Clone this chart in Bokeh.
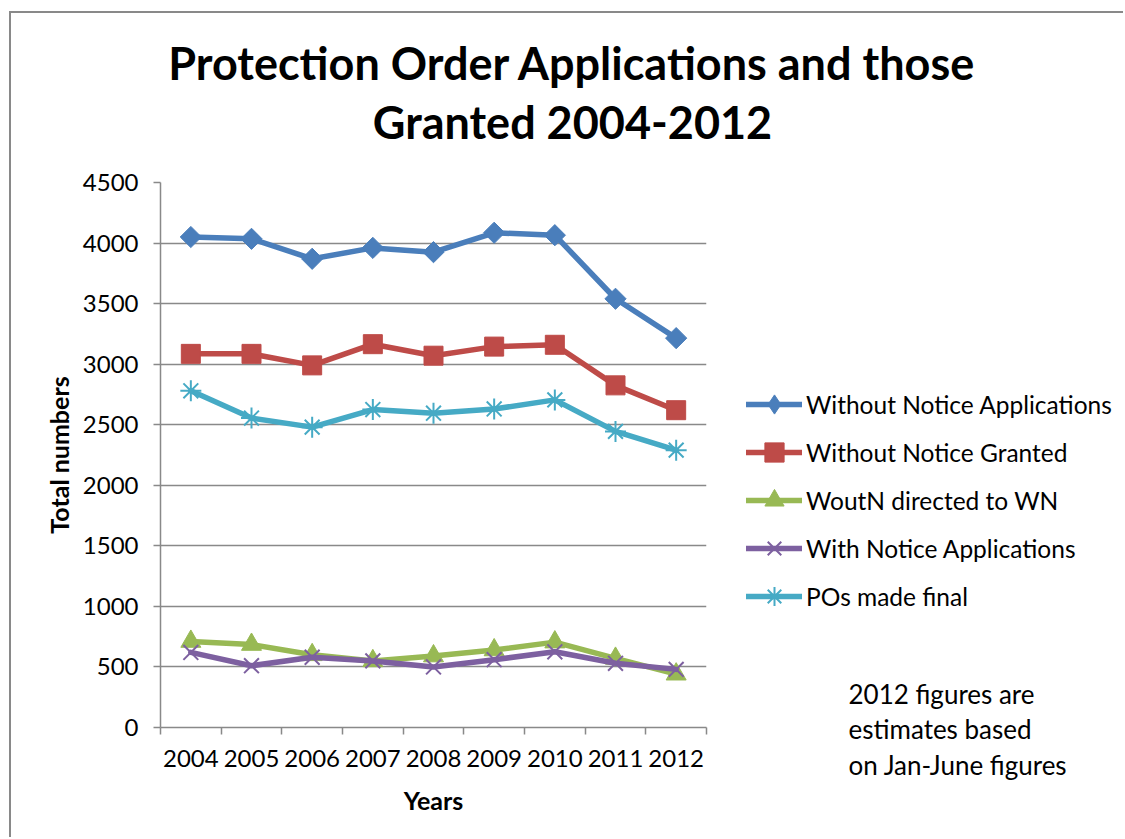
import math
from bokeh.plotting import figure
from bokeh.models import Range1d, FixedTicker, Label, Legend, LegendItem
from bokeh.embed import file_html
from bokeh.resources import INLINE

years = ["2004", "2005", "2006", "2007", "2008", "2009", "2010", "2011", "2012"]
without_notice_apps = [4050, 4035, 3870, 3960, 3925, 4085, 4065, 3540, 3215]
without_notice_granted = [3085, 3085, 2990, 3165, 3070, 3145, 3160, 2825, 2620]
woutn_directed_wn = [710, 685, 600, 550, 590, 640, 705, 570, 440]
with_notice_apps = [620, 510, 580, 550, 500, 560, 625, 530, 480]
pos_made_final = [2780, 2555, 2480, 2625, 2595, 2630, 2705, 2445, 2290]
y_ticks = [0, 500, 1000, 1500, 2000, 2500, 3000, 3500, 4000, 4500]
title_lines = ["Protection Order Applications and those", "Granted 2004-2012"]
note_lines = ["2012 figures are", "estimates based", "on Jan-June figures"]

FONT = "Lato"
GRAY = "#898989"

# page geometry (figure host is offset by margin + border)
OX, OY = 11, 13
FL, FT, FR, FB = 160, 182, 706, 727  # frame in page px
W, H = 1125 - OX, 839 - OY

p = figure(width=W, height=H, output_backend="svg", toolbar_location=None,
           x_range=Range1d(0, 9), y_range=Range1d(0, 4500),
           min_border_left=FL - OX, min_border_right=W - (FR - OX),
           min_border_top=FT - OY, min_border_bottom=H - (FB - OY))
p.styles = {"margin-left": "9px", "margin-top": "11px",
            "border-left": f"2px solid {GRAY}", "border-top": f"2px solid {GRAY}"}
p.outline_line_color = None
p.background_fill_color = "white"
p.border_fill_color = "white"

xs = [i + 0.5 for i in range(len(years))]

# axes
p.yaxis.ticker = FixedTicker(ticks=y_ticks)
p.yaxis.axis_line_color = GRAY
p.yaxis.axis_line_width = 1.5
p.yaxis.major_tick_line_color = GRAY
p.yaxis.major_tick_line_width = 1.5
p.yaxis.major_tick_out = 7
p.yaxis.major_tick_in = 0
p.yaxis.minor_tick_line_color = None
p.yaxis.major_label_standoff = 15
p.yaxis.major_label_text_font = FONT
p.yaxis.major_label_text_font_size = "24px"
p.yaxis.major_label_text_color = "black"
p.yaxis.axis_label = "Total numbers"
p.yaxis.axis_label_text_font = FONT
p.yaxis.axis_label_text_font_size = "25px"
p.yaxis.axis_label_text_font_style = "bold"
p.yaxis.axis_label_text_color = "black"
p.yaxis.axis_label_standoff = 6

p.xaxis.ticker = FixedTicker(ticks=xs, minor_ticks=list(range(len(years) + 1)))
p.xaxis.major_label_overrides = {x: y for x, y in zip(xs, years)}
p.xaxis.axis_line_color = GRAY
p.xaxis.axis_line_width = 1.5
p.xaxis.major_tick_line_color = None
p.xaxis.major_tick_out = 0
p.xaxis.major_tick_in = 0
p.xaxis.minor_tick_line_color = GRAY
p.xaxis.minor_tick_line_width = 1.5
p.xaxis.minor_tick_out = 7
p.xaxis.minor_tick_in = 0
p.xaxis.major_label_standoff = 15
p.xaxis.major_label_text_font = FONT
p.xaxis.major_label_text_font_size = "24px"
p.xaxis.major_label_text_color = "black"
p.xaxis.axis_label = "Years"
p.xaxis.axis_label_text_font = FONT
p.xaxis.axis_label_text_font_size = "25px"
p.xaxis.axis_label_text_font_style = "bold"
p.xaxis.axis_label_text_color = "black"
p.xaxis.axis_label_standoff = 15

p.xgrid.grid_line_color = None
p.ygrid.ticker = FixedTicker(ticks=y_ticks)
p.ygrid.grid_line_color = GRAY
p.ygrid.grid_line_width = 1.5

# name, values, colour, plot marker, size, angle, outline width, legend marker
series = [
    ("Without Notice Applications", without_notice_apps, "#4A7EBB", "square", 15, math.pi / 4, 0, "diamond"),
    ("Without Notice Granted", without_notice_granted, "#BE4B48", "square", 19, 0, 0, "square"),
    ("WoutN directed to WN", woutn_directed_wn, "#98B954", "triangle", 20, 0, 0, "triangle"),
    ("With Notice Applications", with_notice_apps, "#7D60A0", "x", 21, 0, 2, "x"),
    ("POs made final", pos_made_final, "#46AAC5", "asterisk", 21, 0, 2, "asterisk"),
]

def draw(fig, xv, yv, col, marker, size, ang, lw):
    r1 = fig.line(xv, yv, line_color=col, line_width=5.5, line_join="round", line_cap="round")
    if lw:
        r2 = fig.scatter(xv, yv, marker=marker, size=size, line_color=col, line_width=lw,
                         fill_color=None)
    else:
        r2 = fig.scatter(xv, yv, marker=marker, size=size, angle=ang, fill_color=col,
                         line_color=col)
    return r1, r2

for name, vals, col, marker, size, ang, lw, lmarker in series:
    draw(p, xs, vals, col, marker, size, ang, lw)

# transparent overlay whose data coordinates equal page pixels, for free-standing texts
ov = figure(width=1125, height=839, output_backend="svg", toolbar_location=None,
            x_range=Range1d(0, 1125), y_range=Range1d(839, 0),
            x_axis_location=None, y_axis_location=None,
            min_border=0, min_border_left=0, min_border_right=0,
            min_border_top=0, min_border_bottom=0)
ov.styles = {"position": "absolute", "left": "0px", "top": "0px", "pointer-events": "none"}
ov.outline_line_color = None
ov.background_fill_color = None
ov.border_fill_color = None
ov.grid.visible = False

# legend samples: renderers styled like the series, holding only a NaN point (nothing drawn)
nan = float("nan")
items = []
for name, vals, col, marker, size, ang, lw, lmarker in series:
    r1, r2 = draw(ov, [nan], [nan], col, lmarker, size, 0, lw)
    items.append(LegendItem(label=name, renderers=[r1, r2]))

legend = Legend(items=items, location=(746, 839 - 620), orientation="vertical",
                glyph_width=56, glyph_height=48, label_height=48, spacing=0,
                label_standoff=4, padding=0, margin=0, border_line_color=None,
                background_fill_color=None,
                label_text_font=FONT, label_text_font_size="24.5px", label_text_color="black")
ov.add_layout(legend, "center")

def lab(text, px, py, size, bold=False, align="center"):
    ov.add_layout(Label(x=px, y=py, text=text, text_font=FONT,
                        text_font_size=f"{size}px",
                        text_font_style="bold" if bold else "normal",
                        text_align=align, text_baseline="middle", text_color="black"))

lab(title_lines[0], 572, 62, 45, bold=True)
lab(title_lines[1], 572, 121, 45, bold=True)
lab(note_lines[0], 848, 693, 26, align="left")
lab(note_lines[1], 848, 728, 26, align="left")
lab(note_lines[2], 848, 764, 26, align="left")

open("out.html", "w").write(file_html([p, ov], INLINE))
